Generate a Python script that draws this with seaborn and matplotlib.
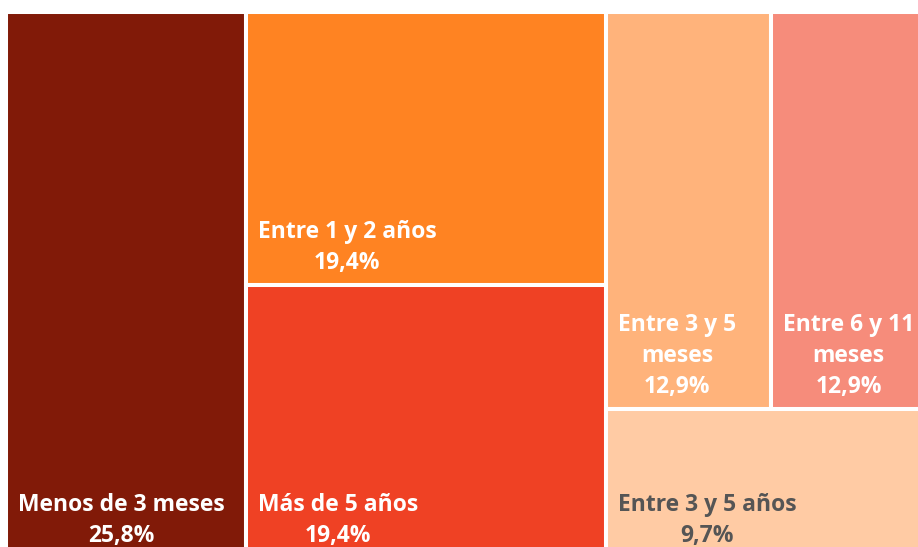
import textwrap
import matplotlib.pyplot as plt
import matplotlib.patches as mpatches
import seaborn as sns

# datos del treemap
categorias = ["Menos de 3 meses", "Entre 1 y 2 años", "Más de 5 años",
              "Entre 3 y 5 meses", "Entre 6 y 11 meses", "Entre 3 y 5 años"]
porcentajes = [25.8, 19.4, 19.4, 12.9, 12.9, 9.7]
colores = ["#811a08", "#ff8322", "#ef4124", "#ffb37b", "#f68c7b", "#ffcba4"]
color_texto = ["white", "white", "white", "white", "white", "#555555"]

# agrupacion de las celdas (columnas -> filas -> columnas)
estructura = [[0], [1, 2], [[3, 4], 5]]

sns.set_theme(style="white")
plt.rcParams['font.family'] = ['Open Sans', 'DejaVu Sans']


def total(nodo):
    if isinstance(nodo, int):
        return porcentajes[nodo]
    return sum(total(n) for n in nodo)


def distribuir(nodo, x, y, w, h, horizontal, salida):
    if isinstance(nodo, int):
        salida[nodo] = (x, y, w, h)
        return
    t = total(nodo)
    for hijo in nodo:
        f = total(hijo) / t
        if horizontal:
            distribuir(hijo, x, y, w * f, h, False, salida)
            x += w * f
        else:
            distribuir(hijo, x, y, w, h * f, True, salida)
            y += h * f


fig = plt.figure(figsize=(9.18, 5.47), dpi=100)
ax = fig.add_axes([0, 0, 1, 1])
ax.set_xlim(0, 918)
ax.set_ylim(547, 0)
ax.axis("off")

celdas = {}
distribuir(estructura, 6, 12, 930, 546, True, celdas)

for i, cat in enumerate(categorias):
    x, y, w, h = celdas[i]
    ax.add_patch(mpatches.Rectangle((x, y), w, h, facecolor=colores[i],
                                    edgecolor="white", linewidth=2.9))
    nombre = cat if w > 200 else textwrap.fill(cat, 12)
    etiqueta = f"{nombre}\n{porcentajes[i]:.1f}%".replace(".", ",")
    ax.text(x + 12, y + h - 16, etiqueta, ha="left", va="baseline",
            multialignment="center", color=color_texto[i], fontsize=16.5,
            fontweight="bold", linespacing=1.38, clip_on=True)

fig.savefig("out.png", dpi=100)
